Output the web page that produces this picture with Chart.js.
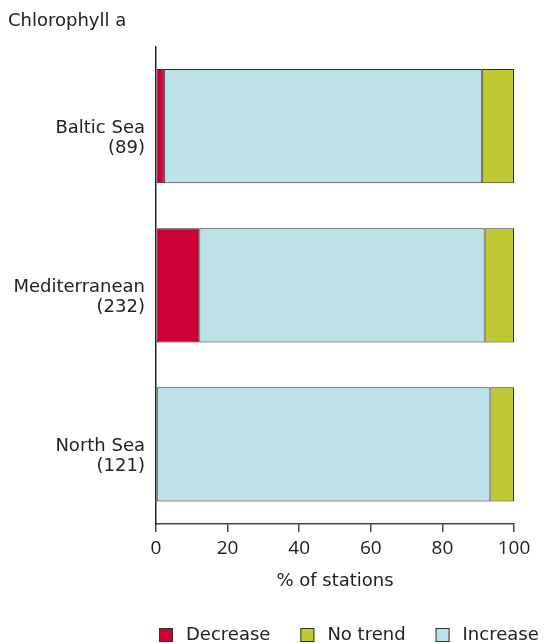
<!DOCTYPE html>
<html>
<head>
<meta charset="utf-8">
<script src="https://cdn.jsdelivr.net/npm/chart.js@4/dist/chart.umd.min.js"></script>
<style>
  html, body { margin: 0; padding: 0; background: #fff; }
  #wrap { width: 544px; height: 643px; }
</style>
</head>
<body>
<div id="wrap"><canvas id="c" width="544" height="643"></canvas></div>
<script>
// Seas with number of stations in brackets
const categories = [["Baltic Sea", "(89)"], ["Mediterranean", "(232)"], ["North Sea", "(121)"]];
// Share of stations (%) per trend class
const decrease = [2.2, 12.1, 0];
const increase = [88.8, 79.7, 93.4];
const noTrend  = [9.0, 8.2, 6.6];
const xTicks = [0, 20, 40, 60, 80, 100];

const ink = '#222';
const axisColor = '#444';
const textFont = 'DejaVu Sans, Verdana, sans-serif';
const legendOrder = ['Decrease', 'No trend', 'Increase'];

// Legend row drawn under the axis title
const legendRow = {
  id: 'legendRow',
  afterDraw(chart) {
    const ctx = chart.ctx;
    const items = chart.data.datasets.slice();
    items.sort((a, b) => legendOrder.indexOf(a.label) - legendOrder.indexOf(b.label));
    const box = 14, gap = 13, itemGap = 30, cy = 635;
    let x = 159;
    ctx.save();
    ctx.font = '18px ' + textFont;
    ctx.textBaseline = 'middle';
    ctx.textAlign = 'left';
    items.forEach(d => {
      ctx.fillStyle = d.backgroundColor;
      ctx.fillRect(x, cy - box / 2, box, box);
      ctx.strokeStyle = '#333';
      ctx.lineWidth = 1;
      ctx.strokeRect(x + 0.5, cy - box / 2 + 0.5, box - 1, box - 1);
      ctx.fillStyle = ink;
      ctx.fillText(d.label, x + box + gap, cy);
      x += box + gap + ctx.measureText(d.label).width + itemGap;
    });
    ctx.restore();
  }
};

new Chart(document.getElementById('c'), {
  type: 'bar',
  data: {
    labels: categories,
    datasets: [
      { label: 'Decrease', data: decrease, backgroundColor: '#cc0033' },
      { label: 'Increase', data: increase, backgroundColor: '#bde1e8' },
      { label: 'No trend', data: noTrend, backgroundColor: '#bfc932' }
    ].map(d => Object.assign(d, {
      borderColor: '#2a2a2a', borderWidth: 1, borderSkipped: false,
      barPercentage: 0.718, categoryPercentage: 1
    }))
  },
  plugins: [legendRow],
  options: {
    indexAxis: 'y',
    responsive: false,
    animation: false,
    layout: { padding: { left: 8, right: 30, top: 0, bottom: 44 } },
    scales: {
      x: {
        stacked: true,
        min: 0, max: 100,
        afterBuildTicks: s => { s.ticks = xTicks.map(v => ({ value: v })); },
        grid: { drawOnChartArea: false, drawTicks: true, tickLength: 8, color: axisColor, lineWidth: 1.5 },
        border: { display: true, color: axisColor, width: 1.5 },
        ticks: { color: ink, font: { family: 'Open Sans', size: 19 }, padding: 5, maxRotation: 0 },
        title: { display: true, text: '% of stations', color: ink, font: { family: textFont, size: 18 }, padding: { top: 6, bottom: 7 } },
        afterFit: s => { s.height = 75; }
      },
      y: {
        stacked: true,
        grid: { display: false },
        border: { display: true, color: '#222', width: 1.5 },
        ticks: { color: ink, font: { family: textFont, size: 18, lineHeight: 1.1 }, padding: 3, labelOffset: 12 },
        afterFit: s => { s.width = 148; }
      }
    },
    plugins: {
      title: {
        display: true, text: 'Chlorophyll a', align: 'start',
        color: ink, font: { family: textFont, size: 18, weight: 'normal' },
        padding: { top: 11, bottom: 14 }
      },
      legend: { display: false },
      tooltip: { enabled: false }
    }
  }
});
</script>
</body>
</html>
